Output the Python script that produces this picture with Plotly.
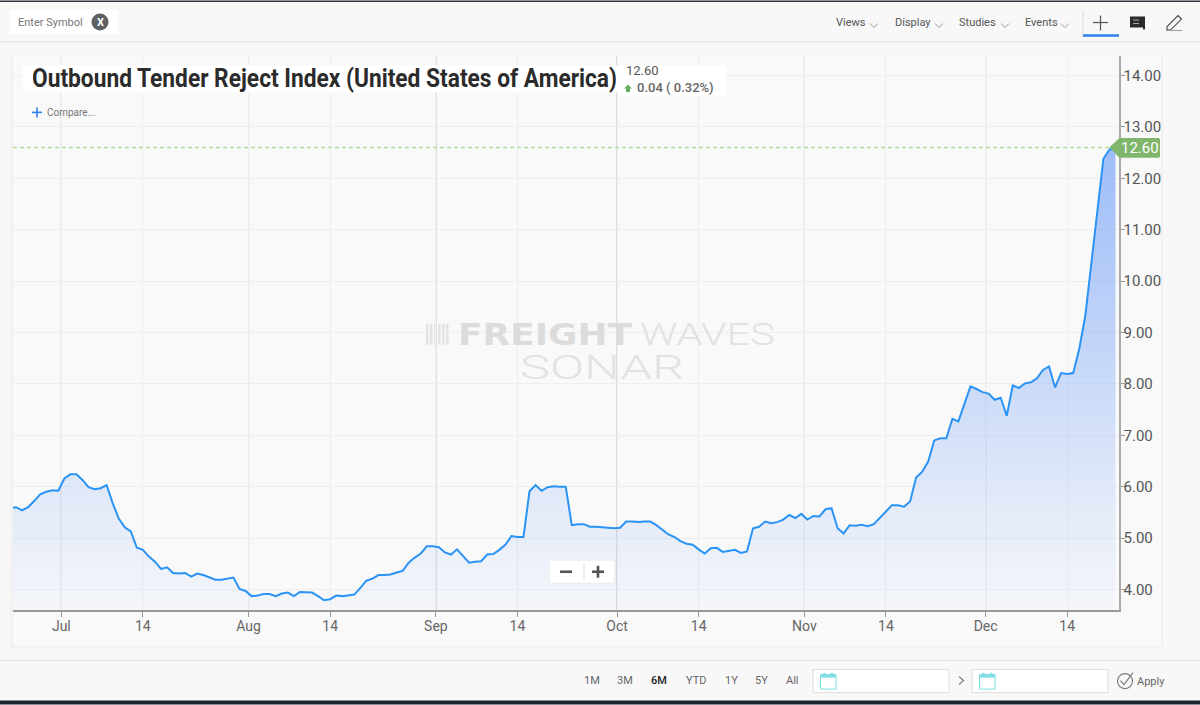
"""Outbound Tender Reject Index screen from SONAR, redrawn in plotly."""

import pandas as pd
from plotly import graph_objects as go

# Data.
first_day = "2017-06-22 12:00"
index_values = [
    5.58, 5.60, 5.54, 5.60, 5.72, 5.85, 5.90, 5.93, 5.92, 6.16, 6.24, 6.24, 6.13, 5.99, 5.95, 5.97,
    6.03, 5.68, 5.38, 5.21, 5.13, 4.81, 4.77, 4.64, 4.54, 4.40, 4.43, 4.32, 4.31, 4.32, 4.25, 4.31,
    4.28, 4.23, 4.19, 4.19, 4.21, 4.23, 4.01, 3.97, 3.87, 3.88, 3.91, 3.91, 3.87, 3.92, 3.94, 3.87,
    3.95, 3.94, 3.94, 3.87, 3.79, 3.81, 3.88, 3.87, 3.88, 3.90, 4.03, 4.17, 4.21, 4.28, 4.28, 4.29,
    4.33, 4.36, 4.52, 4.62, 4.70, 4.84, 4.84, 4.82, 4.72, 4.68, 4.78, 4.66, 4.52, 4.54, 4.55, 4.68,
    4.69, 4.77, 4.87, 5.04, 5.02, 5.02, 5.91, 6.03, 5.92, 5.99, 6.01, 6.00, 6.00, 5.25, 5.27, 5.27,
    5.22, 5.22, 5.21, 5.20, 5.19, 5.20, 5.32, 5.32, 5.31, 5.32, 5.32, 5.25, 5.16, 5.07, 5.02, 4.94,
    4.89, 4.87, 4.78, 4.70, 4.80, 4.81, 4.73, 4.75, 4.77, 4.71, 4.74, 5.19, 5.22, 5.32, 5.29, 5.31,
    5.36, 5.45, 5.39, 5.47, 5.36, 5.43, 5.42, 5.56, 5.58, 5.19, 5.09, 5.25, 5.24, 5.26, 5.23, 5.27,
    5.39, 5.53, 5.64, 5.64, 5.61, 5.71, 6.18, 6.29, 6.49, 6.90, 6.94, 6.94, 7.32, 7.27, 7.62, 7.95,
    7.90, 7.84, 7.81, 7.69, 7.73, 7.38, 7.97, 7.92, 8.01, 8.03, 8.11, 8.27, 8.34, 7.93, 8.21, 8.19,
    8.21, 8.68, 9.32, 10.33, 11.35, 12.38, 12.56, 12.60,
]
month_dates = ["2017-07-01", "2017-08-01", "2017-09-01", "2017-10-01", "2017-11-01", "2017-12-01"]
month_labels = ["Jul", "Aug", "Sep", "Oct", "Nov", "Dec"]
mid_dates = [
    "2017-07-14 12:00", "2017-08-14 12:00", "2017-09-14 12:00",
    "2017-10-14 12:00", "2017-11-14 12:00", "2017-12-14 12:00",
]
mid_labels = ["14", "14", "14", "14", "14", "14"]
y_ticks = [4, 5, 6, 7, 8, 9, 10, 11, 12, 13, 14]
last_value = 12.60
title_text = "Outbound Tender Reject Index (United States of America)"
change_text = "0.04 ( 0.32%)"
menu_items = ["Views", "Display", "Studies", "Events"]
range_buttons = ["1M", "3M", "6M", "YTD", "1Y", "5Y", "All"]

# Plot area in screen pixels.
LEFT, RIGHT, TOP, BOTTOM = 13, 1119, 55.5, 610.3
WIDTH, HEIGHT = 1200, 705
FONT = "Roboto"

# No condensed or wide faces are installed, so these texts get squeezed or spread in the page.
FIT_TEXTS = """
function fitText(text, left, width, adjust) {
  document.querySelectorAll('.annotation-text').forEach(function (el) {
    if (el.textContent !== text) { return; }
    el.setAttribute('textLength', width);
    el.setAttribute('lengthAdjust', adjust);
    var box = el.getBoundingClientRect();
    el.setAttribute('x', parseFloat(el.getAttribute('x') || 0) + left - box.left);
  });
}
fitText('Outbound Tender Reject Index (United States of America)', 32, 585, 'spacingAndGlyphs');
fitText('FREIGHT', 458, 174, 'spacingAndGlyphs');
fitText('WAVES', 640, 135, 'spacingAndGlyphs');
fitText('SONAR', 520, 164, 'spacingAndGlyphs');
"""


def px(x):
    return (x - LEFT) / (RIGHT - LEFT)


def py(y):
    return (BOTTOM - y) / (BOTTOM - TOP)


def rect(x0, y0, x1, y1, fill, line=None, layer="above"):
    return dict(
        type="rect", xref="paper", yref="paper", x0=px(x0), x1=px(x1), y0=py(y0), y1=py(y1),
        fillcolor=fill, line=dict(color=line or fill, width=1 if line else 0), layer=layer,
    )


def seg(x0, y0, x1, y1, color, width=1):
    return dict(
        type="line", xref="paper", yref="paper", x0=px(x0), x1=px(x1), y0=py(y0), y1=py(y1),
        line=dict(color=color, width=width),
    )


def poly(points, fill=None, color=None, width=0, closed=True):
    path = "M " + " L ".join(f"{px(x):.5f},{py(y):.5f}" for x, y in points)
    if closed:
        path += " Z"
    return dict(
        type="path", xref="paper", yref="paper", path=path, fillcolor=fill or "rgba(0,0,0,0)",
        line=dict(color=color or "rgba(0,0,0,0)", width=width),
    )


def circle(cx, cy, r, fill, color=None, width=0):
    return dict(
        type="circle", xref="paper", yref="paper", x0=px(cx - r), x1=px(cx + r),
        y0=py(cy + r), y1=py(cy - r), fillcolor=fill,
        line=dict(color=color or fill, width=width),
    )


def label(x, y, text, size=11.5, color="#666666", anchor="center", family=FONT, weight=None, **extra):
    return dict(
        xref="paper", yref="paper", x=px(x), y=py(y), text=text, showarrow=False, borderpad=0,
        xanchor=anchor, yanchor="middle", font=dict(family=family, size=size, color=color, weight=weight),
        **extra,
    )


dates = pd.date_range(first_day, periods=len(index_values), freq="D")

figure = go.Figure()
figure.add_trace(
    go.Scatter(
        x=dates,
        y=index_values,
        mode="lines",
        line=dict(color="#2a93f5", width=2),
        fill="tozeroy",
        fillgradient=dict(
            type="vertical",
            start=3.6,
            stop=12.6,
            colorscale=[
                [0, "rgba(122,165,248,0.04)"],
                [0.27, "rgba(122,165,248,0.20)"],
                [0.6, "rgba(122,165,248,0.45)"],
                [1, "rgba(122,165,248,0.72)"],
            ],
        ),
        hoverinfo="skip",
        showlegend=False,
    )
)

figure.update_layout(
    width=WIDTH,
    height=HEIGHT,
    autosize=False,
    margin=dict(l=LEFT, r=WIDTH - RIGHT, t=TOP, b=HEIGHT - BOTTOM),
    paper_bgcolor="#f8f8f8",
    plot_bgcolor="#f9f9f9",
    showlegend=False,
    font=dict(family=FONT),
)
figure.update_xaxes(
    type="date",
    range=["2017-06-23 00:00", "2017-12-23 02:00"],
    tickmode="array",
    tickvals=month_dates + mid_dates,
    ticktext=month_labels + mid_labels,
    ticks="outside",
    ticklen=5,
    tickcolor="#999999",
    tickfont=dict(size=14, color="#666666"),
    ticklabelstandoff=-3,
    showline=True,
    linecolor="#999999",
    linewidth=1.5,
    gridcolor="#eeeeee",
    gridwidth=1,
    zeroline=False,
)
figure.update_yaxes(
    range=[3.6, 14.38],
    side="right",
    tickmode="array",
    tickvals=y_ticks,
    tickformat=".2f",
    ticks="outside",
    ticklen=3.5,
    tickcolor="#999999",
    tickfont=dict(size=15, color="#555555"),
    ticklabelstandoff=-4,
    showline=True,
    linecolor="#aaaaaa",
    linewidth=2,
    gridcolor="#eeeeee",
    gridwidth=1,
    zeroline=False,
)

shapes = []

# Month lines.
for month in month_dates:
    shapes.append(
        dict(
            type="line", xref="x", yref="paper", x0=month, x1=month, y0=0, y1=1,
            line=dict(color="#b5b5b5", width=1), layer="below",
        )
    )

# Frame of the page.
shapes += [
    rect(0, 0, 1200, 1.5, "#2f3640"),
    rect(0, 41, 1200, 42, "#dddddd"),
    rect(0, 660, 1200, 661, "#dddddd"),
    rect(0, 701, 1200, 705, "#1b2530"),
    rect(1119, 55.5, 1161, 646, "#f9f9f9", layer="below"),
    rect(13, 610, 1161, 646, "#f9f9f9", layer="below"),
    rect(1161, 56, 1163, 647, "#f1f1f1", layer="below"),
    rect(10, 646, 1163, 648, "#f1f1f1", layer="below"),
    rect(10, 56, 13, 648, "#f2f2f2", layer="below"),
]

# Symbol box.
shapes += [
    rect(10, 9, 118, 33.5, "#ffffff"),
    circle(100, 21.5, 8.5, "#5d6163"),
]

# Menu chevrons.
for cx in [874, 939, 1005, 1065]:
    shapes.append(poly([(cx - 4, 23), (cx, 27), (cx + 4, 23)], color="#999999", width=1, closed=False))

# Tool icons.
shapes += [
    seg(1083, 10, 1083, 36, "#dddddd"),
    seg(1083, 35, 1119, 35, "#2f80f0", 2.5),
    seg(1100.5, 15, 1100.5, 30, "#555555", 1.2),
    seg(1093, 22, 1108, 22, "#555555", 1.2),
    poly([(1130, 16), (1145, 16), (1145, 29), (1143, 29), (1143, 27), (1130, 27)], fill="#2b2b2b"),
    seg(1133, 19.5, 1139, 19.5, "#aaaaaa"),
    seg(1133, 23, 1139, 23, "#aaaaaa"),
    poly(
        [(1167, 26), (1178, 15), (1181.5, 18.5), (1170.5, 29.5), (1167, 29.5)],
        color="#444444", width=1.1,
    ),
    seg(1166, 30, 1182, 30, "#999999"),
]

# Title box and arrow.
shapes += [
    rect(23, 65, 726, 92, "#ffffff"),
    rect(618, 92, 726, 96, "#ffffff"),
    poly([(628, 84), (632, 88), (630, 88), (630, 91.5), (626, 91.5), (626, 88), (624, 88)], fill="#66b060"),
    seg(32, 112, 42, 112, "#2f80f0", 1.6),
    seg(37, 107, 37, 117, "#2f80f0", 1.6),
]

# Last value line and tag.
shapes += [
    dict(
        type="line", xref="paper", yref="y", x0=0, x1=px(1110), y0=last_value, y1=last_value,
        line=dict(color="#b5dd98", width=1.3, dash="4px,3px"),
    ),
    poly([(1109.5, 147), (1119.5, 137.5), (1159, 137.5), (1160, 139), (1160, 156), (1159, 157.5), (1119.5, 157.5)], fill="#80b56c"),
]

# Watermark logo bars.
for bar in [426, 430, 434, 438, 442, 446]:
    shapes.append(rect(bar, 323.5, bar + 2.6, 344.5, "#e3e3e3", layer="below"))

# Zoom control.
shapes += [
    rect(551, 562, 615, 584, "#ececec"),
    rect(550, 561, 614, 583, "#ffffff"),
    seg(584, 564, 584, 580, "#dddddd"),
    seg(560, 572, 572, 572, "#555555", 2.6),
    seg(592, 572, 604, 572, "#555555", 2.6),
    seg(598, 566, 598, 578, "#555555", 2.6),
]

# Date boxes.
for box_left in [813, 972]:
    shapes += [
        rect(box_left, 670, box_left + 136, 693, "#ffffff", "#dddddd"),
        rect(box_left + 7.5, 675, box_left + 23, 689.5, "#ffffff", "#7fdfe2"),
        rect(box_left + 7.5, 675, box_left + 23, 678, "#7fdfe2"),
        circle(box_left + 11.5, 674.5, 1.4, "#7fdfe2"),
        circle(box_left + 19, 674.5, 1.4, "#7fdfe2"),
    ]
shapes += [
    poly([(959, 677), (963.5, 681), (959, 685)], color="#777777", width=1.2, closed=False),
    circle(1125, 681.5, 7.5, "#f8f8f8", "#777777", 1.1),
    poly([(1120.5, 681), (1124, 685), (1133, 673)], color="#777777", width=1.1, closed=False),
]

figure.update_layout(shapes=shapes)

annotations = [
    label(50, 21.5, "Enter Symbol", 11, "#777777"),
    label(100, 21.5, "X", 11, "#ffffff", weight=700),
    label(32, 77.5, title_text, 26, "#2b2b2b", "left", FONT, 700, width=586),
    label(625, 70, f"{last_value:.2f}", 13, "#555555", "left"),
    label(636, 87, change_text, 13, "#666666", "left", weight=500),
    label(46, 112, "Compare...", 10, "#777777", "left"),
    label(1139.5, 147.5, f"{last_value:.2f}", 15, "#ffffff"),
    label(545, 334, "FREIGHT", 30, "#dcdcdc", family="DejaVu Sans", weight=700),
    label(708, 334, "WAVES", 31, "#e2e2e2", family="Roboto", weight=300),
    label(602, 367.5, "SONAR", 33, "#e2e2e2", family="Roboto", weight=300),
    label(1151, 681.5, "Apply", 11, "#666666"),
]
for text, x in zip(menu_items, [851, 912.5, 977, 1041]):
    annotations.append(label(x, 21.5, text, 11, "#555555"))
for text, x in zip(range_buttons, [592, 625, 659, 696, 731, 762, 792]):
    selected = text == "6M"
    annotations.append(label(x, 681, text, 11, "#222222" if selected else "#666666", weight=500 if selected else None))
figure.update_layout(annotations=annotations)

figure.write_html(
    "out.html",
    config=dict(displayModeBar=False),
    post_script="document.body.style.margin='0';" + FIT_TEXTS,
)
